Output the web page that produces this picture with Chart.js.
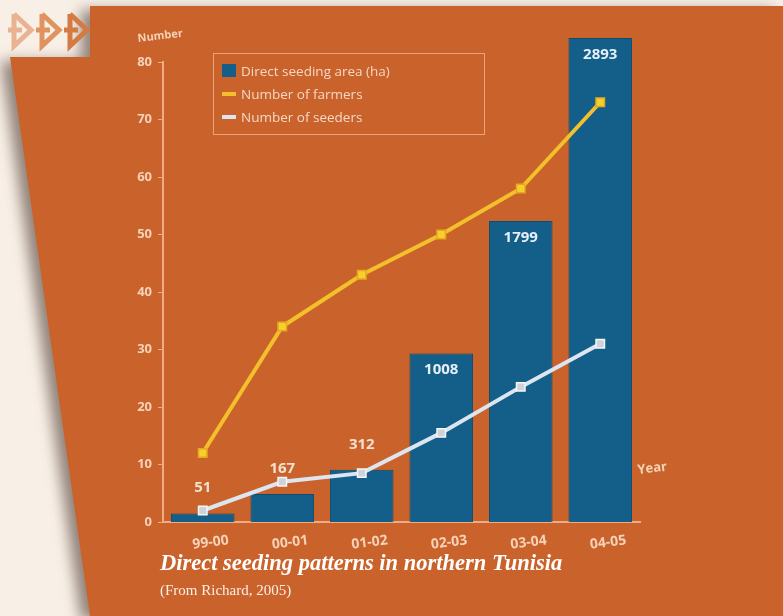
<!DOCTYPE html>
<html>
<head>
<meta charset="utf-8">
<script src="https://cdn.jsdelivr.net/npm/chart.js@4.4.1/dist/chart.umd.min.js"></script>
<style>
  html, body { margin: 0; padding: 0; }
  body { width: 783px; height: 616px; background: #f8efe6; position: relative; overflow: hidden; }
  #panel {
    position: absolute; left: 0; top: 0; width: 783px; height: 616px;
    filter: drop-shadow(-9px 4px 7px rgba(60, 40, 30, 0.55));
  }
  #panel div {
    width: 100%; height: 100%; background: #c9632b;
    clip-path: polygon(90px 6px, 783px 6px, 783px 616px, 90px 616px, 10px 57px, 90px 57px);
  }
  #arrows { position: absolute; left: 0; top: 0; }
  #wrap { position: absolute; left: 0; top: 0; width: 783px; height: 616px; }
  #legend {
    position: absolute; left: 213px; top: 53px; width: 272px; height: 82px;
    border: 1.5px solid #eea27a; box-sizing: border-box;
    font-family: "Open Sans", sans-serif; font-size: 13.5px; color: #f6d6c4;
    padding-top: 5px;
  }
  #legend .item { height: 23px; display: flex; align-items: center; }
  #legend .mark { width: 14px; margin-left: 8px; margin-right: 5px; }
  .caption { position: absolute; left: 160px; color: #fff; font-family: "Liberation Serif", "DejaVu Serif", serif; white-space: nowrap; }
  #title { top: 550px; font-size: 22.5px; font-weight: bold; font-style: italic; }
  #source { top: 582px; font-size: 15px; color: #fbeee6; }
</style>
</head>
<body>
<div id="panel"><div></div></div>
<svg id="arrows" width="100" height="60">
  <g fill="none" stroke-width="5" stroke-linejoin="miter">
    <polyline points="14,14 31,30 14,46 14,14" stroke="#e9b291"/>
    <line x1="8" y1="30" x2="22" y2="30" stroke="#e9b291"/>
    <polyline points="42,14 59,30 42,46 42,14" stroke="#df935f"/>
    <line x1="36" y1="30" x2="50" y2="30" stroke="#df935f"/>
    <polyline points="70,14 87,30 70,46 70,14" stroke="#d47b43"/>
    <line x1="64" y1="30" x2="78" y2="30" stroke="#d47b43"/>
  </g>
</svg>
<div id="wrap"><canvas id="chart" width="783" height="616"></canvas></div>
<div id="legend"></div>
<div class="caption" id="title">Direct seeding patterns in northern Tunisia</div>
<div class="caption" id="source">(From Richard, 2005)</div>

<script>
// Données
const years = ['99-00', '00-01', '01-02', '02-03', '03-04', '04-05'];
const seedingArea = [51, 167, 312, 1008, 1799, 2893];     // ha
const farmers = [12, 34, 43, 50, 58, 73];
const seeders = [2, 7, 8.5, 15.5, 23.5, 31];
const numberTicks = [0, 10, 20, 30, 40, 50, 60, 70, 80];

const tickColor = '#f6d2b8';
const axisColor = '#f0ab82';
const barBlue = '#135f8a';
const yellow = '#f3c02c';
const pale = '#dde6f0';

// Étiquettes des barres + textes d'axes
const labelsPlugin = {
  id: 'labelsPlugin',
  afterDatasetsDraw(chart) {
    const ctx = chart.ctx;
    const meta = chart.getDatasetMeta(0);
    ctx.save();
    ctx.font = 'bold 15px "Open Sans", sans-serif';
    ctx.textAlign = 'center';
    meta.data.forEach((bar, i) => {
      const v = seedingArea[i];
      if (v < 500) {
        // au-dessus de la barre, en laissant la place au marqueur
        ctx.fillStyle = '#f3e0d0';
        ctx.textBaseline = 'bottom';
        ctx.fillText(v, bar.x, bar.y - 18);
      } else {
        ctx.fillStyle = '#e6eef6';
        ctx.textBaseline = 'top';
        ctx.fillText(v, bar.x, bar.y + 9);
      }
    });
    ctx.restore();
  },
  afterDraw(chart) {
    const ctx = chart.ctx;
    const a = chart.chartArea;
    ctx.save();
    ctx.fillStyle = tickColor;
    ctx.font = 'bold 11px "Open Sans", sans-serif';
    ctx.translate(a.left - 25, a.top - 20);
    ctx.rotate(-0.12);
    ctx.fillText('Number', 0, 0);
    ctx.restore();
    ctx.save();
    ctx.fillStyle = tickColor;
    ctx.font = 'bold 13px "Open Sans", sans-serif';
    ctx.translate(a.right - 2, a.bottom - 48);
    ctx.rotate(-0.12);
    ctx.fillText('Year', 0, 0);
    ctx.restore();
  }
};

const chart = new Chart(document.getElementById('chart'), {
  type: 'bar',
  data: {
    labels: years,
    datasets: [
      {
        type: 'bar',
        label: 'Direct seeding area (ha)',
        data: seedingArea,
        yAxisID: 'y1',
        backgroundColor: barBlue,
        borderColor: '#0d4d73',
        borderWidth: 1,
        barPercentage: 0.8,
        categoryPercentage: 1,
        clip: false,
        order: 3
      },
      {
        type: 'line',
        label: 'Number of farmers',
        data: farmers,
        yAxisID: 'y',
        borderColor: yellow,
        borderWidth: 4,
        pointStyle: 'rect',
        pointRadius: 6,
        pointBackgroundColor: '#f4cf2e',
        pointBorderColor: '#e8a81e',
        pointBorderWidth: 1.5,
        tension: 0,
        order: 1
      },
      {
        type: 'line',
        label: 'Number of seeders',
        data: seeders,
        yAxisID: 'y',
        borderColor: pale,
        borderWidth: 4,
        pointStyle: 'rect',
        pointRadius: 6,
        pointBackgroundColor: '#cfd2d8',
        pointBorderColor: '#f4f6f8',
        pointBorderWidth: 1.5,
        tension: 0,
        order: 2
      }
    ]
  },
  options: {
    responsive: false,
    animation: false,
    layout: { padding: { left: 123, top: 62, right: 143, bottom: 54 } },
    plugins: {
      legend: { display: false },
      tooltip: { enabled: false }
    },
    scales: {
      x: {
        grid: { display: false },
        border: { color: axisColor, width: 2 },
        ticks: {
          color: tickColor,
          font: { size: 14, weight: 'bold', family: '"Open Sans", sans-serif' },
          minRotation: 7,
          maxRotation: 7,
          labelOffset: 26,
          padding: 2
        },
        afterFit(scale) { scale.height = 40; }
      },
      y: {
        min: 0,
        max: 80,
        afterBuildTicks(scale) { scale.ticks = numberTicks.map(v => ({ value: v })); },
        grid: { drawOnChartArea: false, color: axisColor, tickLength: 5 },
        border: { color: axisColor, width: 2 },
        ticks: {
          color: tickColor,
          font: { size: 13, weight: 'bold', family: '"Open Sans", sans-serif' },
          padding: 6
        },
        afterFit(scale) { scale.width = 40; }
      },
      y1: {
        display: false,
        min: 0,
        max: 2750
      }
    }
  },
  plugins: [labelsPlugin]
});

// Légende HTML encadrée
const legendBox = document.getElementById('legend');
chart.data.datasets.forEach(ds => {
  const item = document.createElement('div');
  item.className = 'item';
  const mark = document.createElement('div');
  mark.className = 'mark';
  if (ds.type === 'bar') {
    mark.style.height = '13px';
    mark.style.background = ds.backgroundColor;
  } else {
    mark.style.height = '4px';
    mark.style.background = ds.borderColor;
  }
  const txt = document.createElement('span');
  txt.textContent = ds.label;
  item.appendChild(mark);
  item.appendChild(txt);
  legendBox.appendChild(item);
});
</script>
</body>
</html>
